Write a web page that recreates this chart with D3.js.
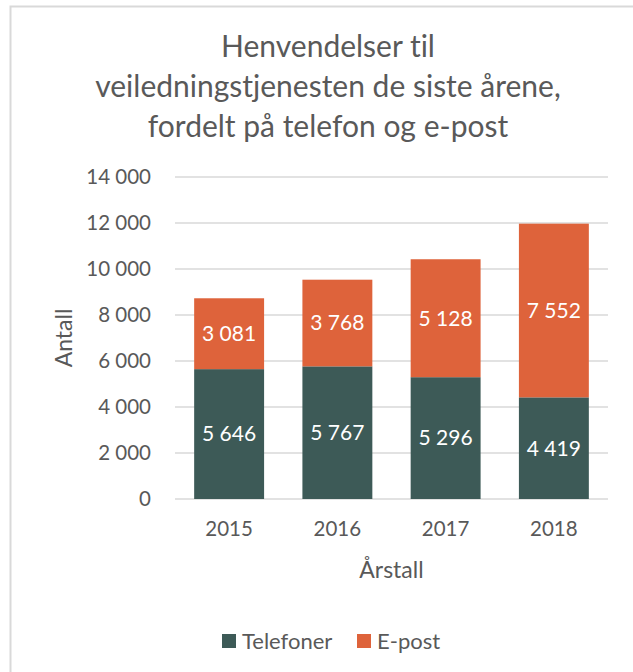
<!DOCTYPE html>
<html>
<head>
<meta charset="utf-8">
<script src="https://cdn.jsdelivr.net/npm/d3@7"></script>
<style>
  body { margin: 0; background: #fff; }
  text { font-family: Lato, "Open Sans", sans-serif; font-variant-ligatures: none; }
</style>
</head>
<body>
<div id="chart"></div>
<script>
var years = ['2015', '2016', '2017', '2018'];
var telefoner = [5646, 5767, 5296, 4419];
var epost = [3081, 3768, 5128, 7552];
var seriesNames = ['Telefoner', 'E-post'];
var seriesColors = ['#3d5a57', '#de633b'];
var yTicks = [0, 2000, 4000, 6000, 8000, 10000, 12000, 14000];
var titleLines = ['Henvendelser til', 'veiledningstjenesten de siste årene,', 'fordelt på telefon og e-post'];

var width = 633, height = 672;
var plotLeft = 175, plotRight = 608, plotTop = 177, plotBottom = 499;

var fmt = function(v){
  return d3.format(',')(v).replace(/,/g, ' ');
};

var svg = d3.select('#chart').append('svg')
  .attr('width', width)
  .attr('height', height);

// chart border
svg.append('rect')
  .attr('x', 10.5).attr('y', 6.5)
  .attr('width', 640).attr('height', 680)
  .attr('fill', '#fff')
  .attr('stroke', '#d9d9d9')
  .attr('stroke-width', 2);

var x = d3.scaleBand().domain(years).range([plotLeft, plotRight]).paddingInner(0.354).paddingOuter(0.177);
var y = d3.scaleLinear().domain([0, 14000]).range([plotBottom, plotTop]);

// title
svg.append('g').selectAll('text').data(titleLines)
  .enter().append('text')
  .attr('x', 328)
  .attr('y', function(d, i){ return 57 + i * 40; })
  .attr('text-anchor', 'middle')
  .attr('fill', '#595959')
  .attr('font-size', 30)
  .text(function(d){ return d; });

// gridlines
svg.append('g').selectAll('line').data(yTicks)
  .enter().append('line')
  .attr('x1', plotLeft).attr('x2', plotRight)
  .attr('y1', function(d){ return y(d); })
  .attr('y2', function(d){ return y(d); })
  .attr('stroke', '#d9d9d9')
  .attr('stroke-width', 1.5);

// y axis
var yAxis = svg.append('g')
  .attr('transform', 'translate(' + plotLeft + ',0)')
  .call(d3.axisLeft(y).tickValues(yTicks).tickFormat(fmt).tickSize(0).tickPadding(24));
yAxis.select('.domain').remove();
yAxis.selectAll('text')
  .attr('font-size', 20.5)
  .attr('fill', '#595959')
  .style('font-family', 'Lato, "Open Sans", sans-serif');

// x axis
var xAxis = svg.append('g')
  .attr('transform', 'translate(0,' + plotBottom + ')')
  .call(d3.axisBottom(x).tickSize(0).tickPadding(22));
xAxis.select('.domain').remove();
xAxis.selectAll('text')
  .attr('font-size', 20.5)
  .attr('fill', '#595959')
  .style('font-family', 'Lato, "Open Sans", sans-serif');

// stacked bars
var rows = years.map(function(yr, i){
  return { year: yr, Telefoner: telefoner[i], 'E-post': epost[i] };
});
var stack = d3.stack().keys(seriesNames)(rows);

var layers = svg.append('g').selectAll('g').data(stack)
  .enter().append('g')
  .attr('fill', function(d, i){ return seriesColors[i]; });

layers.selectAll('rect').data(function(d){ return d; })
  .enter().append('rect')
  .attr('x', function(d){ return x(d.data.year); })
  .attr('width', x.bandwidth())
  .attr('y', function(d){ return y(d[1]); })
  .attr('height', function(d){ return y(d[0]) - y(d[1]); });

layers.selectAll('text').data(function(d){ return d; })
  .enter().append('text')
  .attr('x', function(d){ return x(d.data.year) + x.bandwidth() / 2; })
  .attr('y', function(d){ return (y(d[0]) + y(d[1])) / 2; })
  .attr('dy', '0.35em')
  .attr('text-anchor', 'middle')
  .attr('fill', '#fff')
  .attr('font-size', 21)
  .text(function(d){ return fmt(d[1] - d[0]); });

// axis titles
svg.append('text')
  .attr('transform', 'translate(72,' + ((plotTop + plotBottom) / 2) + ') rotate(-90)')
  .attr('text-anchor', 'middle')
  .attr('fill', '#595959')
  .attr('font-size', 23)
  .text('Antall');

svg.append('text')
  .attr('x', (plotLeft + plotRight) / 2)
  .attr('y', 578)
  .attr('text-anchor', 'middle')
  .attr('fill', '#595959')
  .attr('font-size', 23)
  .text('Årstall');

// legend
var legendX = [222, 357];
var legend = svg.append('g').selectAll('g').data(seriesNames)
  .enter().append('g')
  .attr('transform', function(d, i){ return 'translate(' + legendX[i] + ',634)'; });
legend.append('rect')
  .attr('width', 14).attr('height', 14)
  .attr('fill', function(d, i){ return seriesColors[i]; });
legend.append('text')
  .attr('x', 20).attr('y', 14.5)
  .attr('fill', '#595959')
  .attr('font-size', 22)
  .text(function(d){ return d; });
</script>
</body>
</html>
